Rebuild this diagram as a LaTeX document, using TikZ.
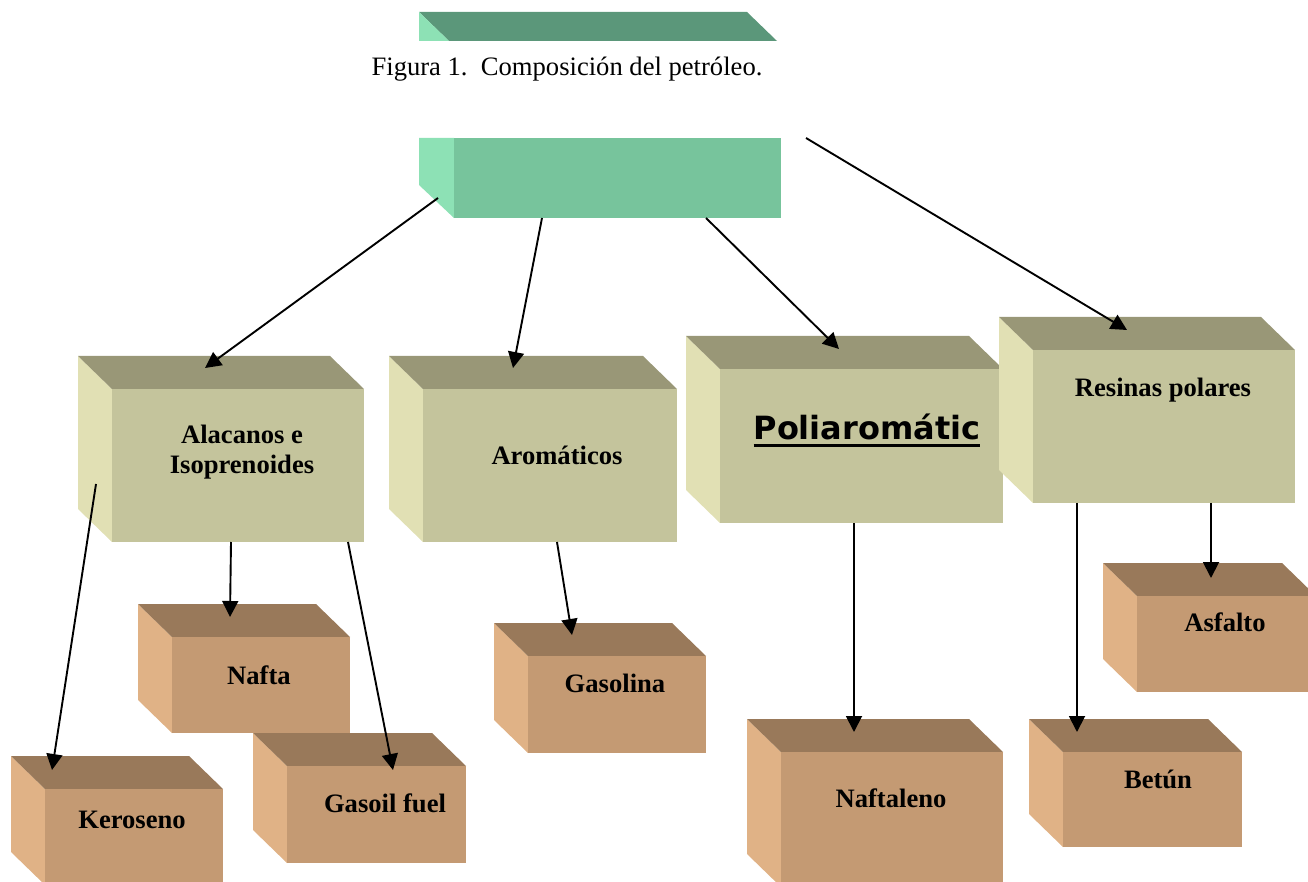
\documentclass[tikz,border=0pt]{standalone}
\usepackage{fontspec}
\setmainfont{Liberation Serif}
\newfontfamily\sansnegra{DejaVu Sans}
\usepackage{tikz}
\usetikzlibrary{arrows.meta}
\usetikzlibrary{calc}

\definecolor{verdeOscuro}{HTML}{5B977A}
\definecolor{verdeClaro}{HTML}{8DE1B5}
\definecolor{verdeFrente}{HTML}{77C49C}
\definecolor{olivoTapa}{HTML}{999777}
\definecolor{olivoFrente}{HTML}{C4C49C}
\definecolor{olivoLado}{HTML}{E1E0B4}
\definecolor{cafeTapa}{HTML}{99795A}
\definecolor{cafeFrente}{HTML}{C49A73}
\definecolor{cafeLado}{HTML}{E0B286}

% caja 3D: nombre, tono, esquina sup. izq. del frente (x,y), ancho, alto
\newcommand{\caja}[6]{%
	\fill[#2_lado] (#3,#4) -- ++(-34,-33) -- ++(0,#6) -- ++(34,33) -- cycle;
	\fill[#2_tapa] (#3,#4) -- ++(-34,-33) -- ++(#5,0) -- ++(34,33) -- cycle;
	\node[#2_frente, minimum width=#5*0.5pt, minimum height=#6*0.5pt] (#1) at (#3,#4) {};
}
\newcommand{\subrayado}[1]{\setbox0\hbox{#1}\rlap{\raisebox{-3.75pt}{\rule{\wd0}{1.5pt}}}\box0}

\begin{document}
\begin{tikzpicture}[x=0.5pt, y=-0.5pt,
		frente/.style={rectangle, anchor=north west, inner sep=0pt, outer sep=0pt},
		olivo_frente/.style={frente, fill=olivoFrente},
		olivo_tapa/.style={fill=olivoTapa},
		olivo_lado/.style={fill=olivoLado},
		cafe_frente/.style={frente, fill=cafeFrente},
		cafe_tapa/.style={fill=cafeTapa},
		cafe_lado/.style={fill=cafeLado},
		texto/.style={font=\bfseries\fontsize{13.3}{15}\selectfont, align=center, inner sep=0pt},
		flecha/.style={draw=black, line width=0.95pt, -{Triangle[length=8pt, width=8pt]}}]
	\useasboundingbox (0,0) rectangle (1308,882);
	\clip (0,0) rectangle (1308,882);
	
	% barra del titulo
	\fill[verdeOscuro] (419,12) -- (747,12) -- (777,41) -- (449,41) -- cycle;
	\fill[verdeClaro] (419,12) -- (449,41) -- (419,41) -- cycle;
	\node[font=\fontsize{13.3}{15}\selectfont, inner sep=0pt] (titulo) at (567,69) {Figura 1.\ \ Composición del petróleo.};
	
	% caja raiz
	\fill[verdeClaro] (419,138) -- (454,138) -- (454,218) -- (419,185) -- cycle;
	\node[frente, fill=verdeFrente, minimum width=163.5pt, minimum height=40pt] (raiz) at (454,138) {};
	
	% primer nivel
	\caja{alc}{olivo}{112}{389}{252}{153}
	\caja{aro}{olivo}{423}{389}{254}{153}
	\caja{pol}{olivo}{720}{369}{283}{154}
	\caja{res}{olivo}{1033}{350}{262}{153}
	
	\node[texto] (alc_txt) at (242,452) {Alacanos e\\Isoprenoides};
	\node[texto] (aro_txt) at (557,455) {Aromáticos};
	\node[inner sep=0pt, font=\fontsize{16}{18}\selectfont] (pol_txt) at (867,430) {\subrayado{\sansnegra\bfseries Poliaromátic}};
	\node[texto] (res_txt) at (1163,390) {Resinas polares};
	
	% segundo nivel
	\caja{naf}{cafe}{172}{637}{178}{96}
	\caja{gas}{cafe}{287}{766}{179}{97}
	\caja{ker}{cafe}{45}{789}{178}{96}
	\caja{gsl}{cafe}{528}{656}{178}{97}
	\caja{nfl}{cafe}{781}{752}{222}{135}
	\caja{bet}{cafe}{1063}{752}{179}{95}
	\caja{asf}{cafe}{1137}{596}{179}{96}
	
	\node[texto] (naf_txt) at (259,675) {Nafta};
	\node[texto] (gas_txt) at (385,803) {Gasoil fuel};
	\node[texto] (ker_txt) at (132,820) {Keroseno};
	\node[texto] (gsl_txt) at (615,683) {Gasolina};
	\node[texto] (nfl_txt) at (891,798) {Naftaleno};
	\node[texto] (bet_txt) at (1158,779) {Betún};
	\node[texto] (asf_txt) at (1225,622) {Asfalto};
	
	% flechas
	\draw[flecha] ([shift={(-16,-20)}]raiz.south west) -- ([shift={(93,-21)}]alc.north west);
	\draw[flecha] ([shift={(88,0)}]raiz.south west) -- ([shift={(90,-21)}]aro.north west);
	\draw[flecha] ([shift={(252,0)}]raiz.south west) -- ([shift={(119,-20)}]pol.north west);
	\draw[flecha] ([shift={(25,0)}]raiz.north east) -- ([shift={(94,-20)}]res.north west);
	
	\draw[flecha] ([shift={(-16,-58)}]alc.south west) -- ([shift={(7,-19)}]ker.north west);
	\draw[flecha] ([shift={(119,0)}]alc.south west) -- ([shift={(58,-20)}]naf.north west);
	\draw[flecha] ([shift={(236,0)}]alc.south west) -- ([shift={(106,4)}]gas.north west);
	\draw[flecha] ([shift={(134,0)}]aro.south west) -- ([shift={(44,-21)}]gsl.north west);
	\draw[flecha] ([shift={(134,0)}]pol.south west) -- ([shift={(73,-20)}]nfl.north west);
	\draw[flecha] ([shift={(44,0)}]res.south west) -- ([shift={(14,-20)}]bet.north west);
	\draw[flecha] ([shift={(178,0)}]res.south west) -- ([shift={(74,-18)}]asf.north west);
\end{tikzpicture}
\end{document}
